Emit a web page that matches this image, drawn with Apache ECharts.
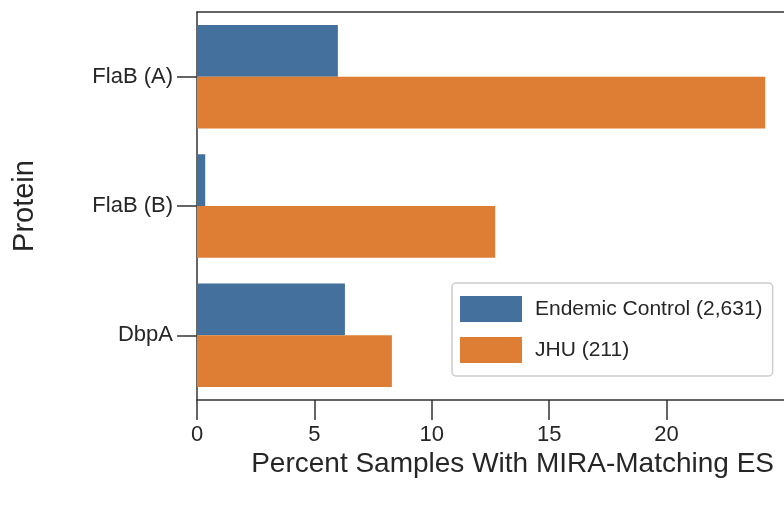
<!DOCTYPE html>
<html><head><meta charset="utf-8">
<script src="https://cdn.jsdelivr.net/npm/echarts@6/dist/echarts.min.js"></script>
<style>html,body{margin:0;background:#fff}#c{width:784px;height:510px}</style>
</head><body><div id="c"></div>
<script>
const proteins = ['FlaB (A)', 'FlaB (B)', 'DbpA'];
const endemic = [6.0, 0.35, 6.3];
const jhu = [24.2, 12.7, 8.3];
const seriesNames = ['Endemic Control (2,631)', 'JHU (211)'];
const xTicks = [0, 5, 10, 15, 20];

const chart = echarts.init(document.getElementById('c'));
const font = 'Liberation Sans';
chart.setOption({
  animation: false,
  textStyle: { fontFamily: font },
  grid: { left: 197, right: 0, top: 12, bottom: 110 },
  legend: {
    orient: 'vertical', left: 452, top: 283,
    padding: [13, 10, 13, 8], itemGap: 15,
    itemWidth: 62, itemHeight: 26, icon: 'rect',
    borderColor: '#cccccc', borderWidth: 1.5, borderRadius: 4,
    textStyle: { fontSize: 21, color: '#262626', fontFamily: font, padding: [0, 0, 0, 8] },
    data: seriesNames
  },
  xAxis: [{
    type: 'value', min: 0, max: 25, interval: 5,
    name: 'Percent Samples With MIRA-Matching ES', nameLocation: 'end',
    nameGap: 0,
    nameTextStyle: { fontSize: 28, color: '#262626', align: 'right', verticalAlign: 'top', padding: [50, 10, 0, 0] },
    axisLine: { show: true, lineStyle: { color: '#333', width: 1.5 } },
    axisTick: { show: true, length: 20, customValues: xTicks, lineStyle: { color: '#333', width: 1.5 } },
    axisLabel: { fontSize: 22, color: '#262626', margin: 24, customValues: xTicks },
    splitLine: { show: false }
  }, {
    type: 'value', position: 'top', min: 0, max: 25,
    axisLine: { show: true, lineStyle: { color: '#333', width: 1.5 } },
    axisTick: { show: false }, axisLabel: { show: false }, splitLine: { show: false }
  }],
  yAxis: {
    type: 'category', data: proteins, inverse: true,
    name: 'Protein', nameLocation: 'middle', nameGap: 158, nameRotate: 90,
    nameTextStyle: { fontSize: 29, color: '#262626' },
    axisLine: { show: true, lineStyle: { color: '#333', width: 1.5 } },
    axisTick: { show: true, alignWithLabel: true, length: 20, lineStyle: { color: '#333', width: 1.5 } },
    axisLabel: { fontSize: 22, color: '#262626', margin: 24 }
  },
  series: [
    { name: seriesNames[0], type: 'bar', data: endemic, barCategoryGap: '20%', barGap: '0%', itemStyle: { color: '#44709d' } },
    { name: seriesNames[1], type: 'bar', data: jhu, barGap: '0%', itemStyle: { color: '#dd7e34' } }
  ]
});
</script></body></html>
